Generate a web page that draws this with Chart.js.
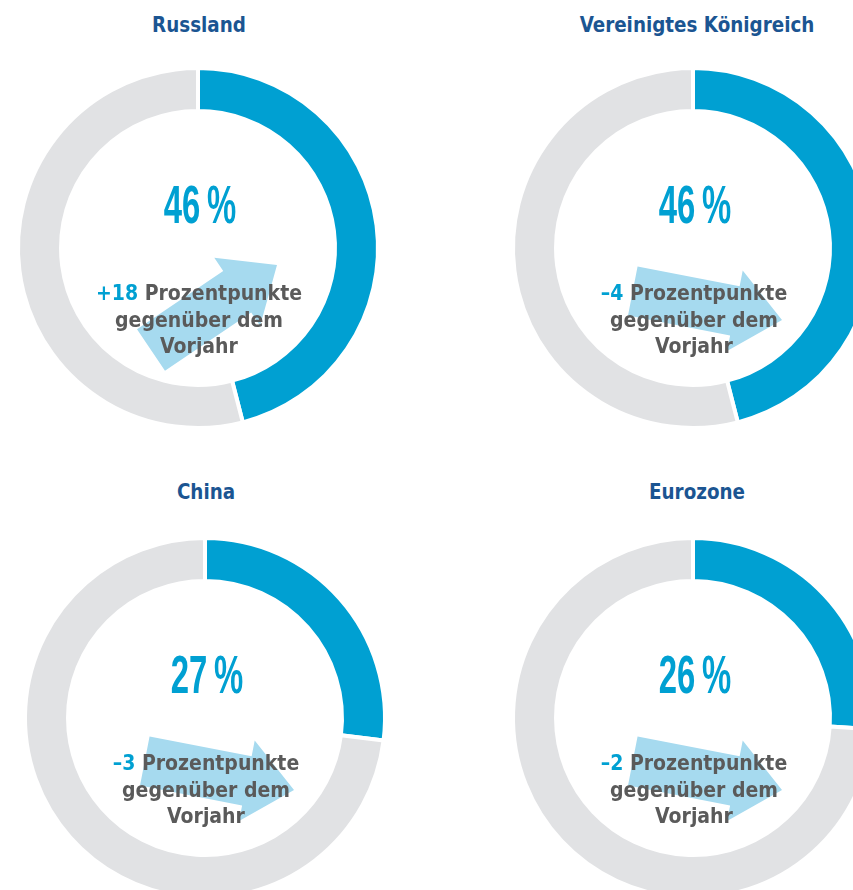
<!DOCTYPE html>
<html>
<head>
<meta charset="utf-8">
<script src="https://cdn.jsdelivr.net/npm/chart.js@4/dist/chart.umd.min.js"></script>
<style>
  html, body { margin: 0; padding: 0; background: #ffffff; }
  body { width: 853px; height: 890px; overflow: hidden; position: relative; }
  .title { position: absolute; width: 400px; text-align: center; font-family: "DejaVu Sans Condensed", "DejaVu Sans", sans-serif; font-weight: bold; font-size: 21px; color: #1b5592; line-height: 24px; white-space: nowrap; transform: scaleX(0.97); }
  canvas { position: absolute; }
  .pct { position: absolute; width: 200px; text-align: center; font-family: "Liberation Sans", Arial, sans-serif; font-weight: bold; font-size: 53px; line-height: 54px; color: #00a0d2; transform: scaleX(0.62); white-space: nowrap; }
  .chg { position: absolute; width: 300px; text-align: center; font-family: "DejaVu Sans Condensed", "DejaVu Sans", sans-serif; font-weight: bold; font-size: 21px; line-height: 26.5px; color: #5a5a5a; white-space: nowrap; }
  .chg .v { color: #00a0d2; }
</style>
</head>
<body>
<script>
// ---- data ----
const countries = ['Russland', 'Vereinigtes Königreich', 'China', 'Eurozone'];
const shares = [46, 46, 27, 26];            // percent
const changes = [18, -4, -3, -2];           // percentage points vs. previous year
const changeLabel = ['Prozentpunkte', 'gegenüber dem', 'Vorjahr'];

// ---- layout (positions only) ----
const centers = [[198, 248], [693, 248], [205, 718], [693, 718]];
const titleY = [13, 13, 480, 480];
const titleDX = [1, 4, 1, 4];

const BLUE = '#00a0d2';
const GREY = '#e1e2e4';
const ARROW = '#a6daef';

const arrowPlugin = {
  id: 'arrowPlugin',
  beforeDatasetsDraw(chart, args, opts) {
    const ctx = chart.ctx;
    const cx = (chart.chartArea.left + chart.chartArea.right) / 2;
    const cy = (chart.chartArea.top + chart.chartArea.bottom) / 2;
    const up = opts.change > 0;
    const ang = up ? -34 * Math.PI / 180 : 11 * Math.PI / 180;
    const tip = up ? [79, 17] : [89, 72];
    const len = 152, shaftW = 50, headW = 82, headL = 48;
    ctx.save();
    ctx.translate(cx + tip[0], cy + tip[1]);
    ctx.rotate(ang);
    ctx.beginPath();
    ctx.moveTo(0, 0);
    ctx.lineTo(-headL, -headW / 2);
    ctx.lineTo(-headL, -shaftW / 2);
    ctx.lineTo(-len, -shaftW / 2);
    ctx.lineTo(-len, shaftW / 2);
    ctx.lineTo(-headL, shaftW / 2);
    ctx.lineTo(-headL, headW / 2);
    ctx.closePath();
    ctx.fillStyle = ARROW;
    ctx.fill();
    ctx.restore();
  }
};

const SIZE = 400;
countries.forEach((name, i) => {
  const [cx, cy] = centers[i];

  const t = document.createElement('div');
  t.className = 'title';
  t.style.left = (cx + titleDX[i] - 200) + 'px';
  t.style.top = titleY[i] + 'px';
  t.textContent = name;
  document.body.appendChild(t);

  const cv = document.createElement('canvas');
  cv.width = SIZE; cv.height = SIZE;
  cv.style.left = (cx - SIZE / 2) + 'px';
  cv.style.top = (cy - SIZE / 2) + 'px';
  cv.style.width = SIZE + 'px'; cv.style.height = SIZE + 'px';
  document.body.appendChild(cv);

  new Chart(cv, {
    type: 'doughnut',
    data: {
      labels: ['Anteil', 'Rest'],
      datasets: [{
        data: [shares[i], 100 - shares[i]],
        backgroundColor: [BLUE, GREY],
        borderColor: '#ffffff',
        borderWidth: 4,
        hoverOffset: 0
      }]
    },
    options: {
      responsive: false,
      animation: false,
      radius: 180,
      cutout: '76.1%',
      layout: { padding: 0 },
      plugins: {
        legend: { display: false },
        tooltip: { enabled: false },
        arrowPlugin: { change: changes[i] }
      }
    },
    plugins: [arrowPlugin]
  });

  const p = document.createElement('div');
  p.className = 'pct';
  p.style.left = (cx + 2 - 100) + 'px';
  p.style.top = (cy - 43 - 27) + 'px';
  p.textContent = shares[i] + '\u2009%';
  document.body.appendChild(p);

  const c = document.createElement('div');
  c.className = 'chg';
  c.style.left = (cx + 1 - 150) + 'px';
  c.style.top = (cy + 45 - 13) + 'px';
  const v = changes[i];
  const sign = v > 0 ? '+' + v : '\u2013' + Math.abs(v);
  c.innerHTML = '<span class="v">' + sign + '</span> ' + changeLabel[0] + '<br>' + changeLabel[1] + '<br>' + changeLabel[2];
  document.body.appendChild(c);
});
</script>
</body>
</html>
